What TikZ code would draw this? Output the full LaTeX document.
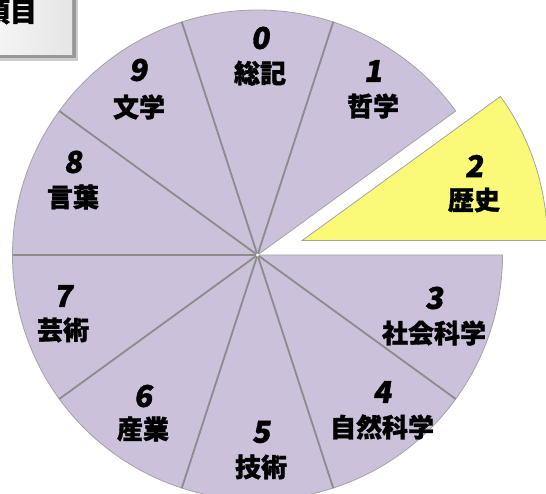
\documentclass[tikz,border=0pt]{standalone}
\usepackage{fontspec}
\usetikzlibrary{calc}
\setmainfont{Noto Sans CJK JP}[BoldFont={Noto Sans CJK JP Black}, BoldFeatures={FakeBold=1.2}]
\newfontfamily\numfont{Noto Sans CJK JP}[FakeSlant=0.15, BoldFont={Noto Sans CJK JP Black}, BoldFeatures={FakeBold=1.2}]
\definecolor{piefill}{HTML}{CBC1DB}
\definecolor{histfill}{HTML}{FAFA78}
\definecolor{sepcol}{HTML}{8C8C8C}
\begin{document}
\begin{tikzpicture}[x=1pt,y=1pt,
  num/.style={font=\numfont\bfseries\fontsize{30}{30}\selectfont, inner sep=0pt},
  lab/.style={font=\bfseries\fontsize{26}{26}\selectfont, inner sep=0pt},
  sector/.style={fill=piefill, draw=sepcol!80, line width=0.8pt},
  hsector/.style={fill=histfill, draw=sepcol!80, line width=0.8pt},
  divider/.style={draw=sepcol, line width=1.8pt}]
\useasboundingbox (0,0) rectangle (546,-494);
\begin{scope}
\clip (0,0) rectangle (546,-494);
% title box (cut off at the top left)
\fill[black!20] (-5,5) rectangle (78,-61);
\fill[black!40] (-5,5) rectangle (75.5,-58.5);
\shade[left color=gray!8, right color=gray!20] (-5,5) rectangle (72,-55);
\node[font=\bfseries\fontsize{27}{27}\selectfont, inner sep=0pt, anchor=east] (title) at (37,-12) {項目};
% pie
\coordinate (c) at (257.5,-255);
\foreach \a in {72,36,-36,-72,-108,-144,-180,144,108}{
  \filldraw[sector] (c) -- ++(\a:245) arc[start angle=\a, end angle=\a+36, radius=245] -- cycle;
}
\foreach \a in {72,108,144,180,216,252,288,324}{
  \draw[divider] (c) -- ++(\a:245);
}
\fill[white] (c) circle (1.6);
\coordinate (c2) at ($(c)+(18:47)$);
\filldraw[hsector] (c2) -- ++(0:245) arc[start angle=0, end angle=36, radius=245] -- cycle;
% labels
\node[num] (n0) at (260,-38) {0};  \node[lab] (t0) at (260,-73) {総記};
\node[num] (n1) at (373,-71) {1};  \node[lab] (t1) at (373,-106) {哲学};
\node[num] (n2) at (474,-166) {2}; \node[lab] (t2) at (474,-200) {歴史};
\node[num] (n3) at (434,-298) {3}; \node[lab] (t3) at (434,-333) {社会科学};
\node[num] (n4) at (382,-392) {4}; \node[lab] (t4) at (382,-427) {自然科学};
\node[num] (n5) at (261,-432) {5}; \node[lab] (t5) at (261,-467) {技術};
\node[num] (n6) at (143,-396) {6}; \node[lab] (t6) at (143,-429) {産業};
\node[num] (n7) at (63,-296) {7};  \node[lab] (t7) at (63,-330) {芸術};
\node[num] (n8) at (73,-162) {8};  \node[lab] (t8) at (73,-197) {言葉};
\node[num] (n9) at (138,-70) {9};  \node[lab] (t9) at (139,-107) {文学};
\end{scope}
\end{tikzpicture}
\end{document}
